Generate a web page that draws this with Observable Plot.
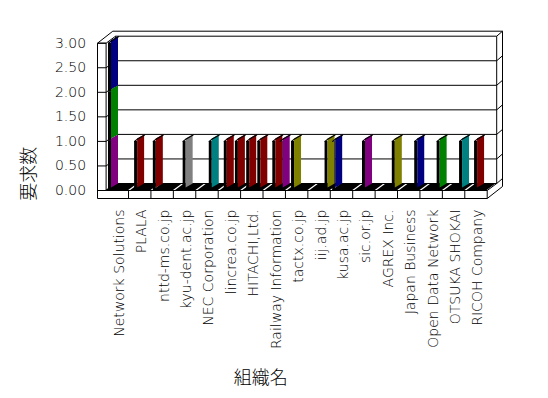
<!DOCTYPE html>
<html><head><meta charset="utf-8">
<script src="https://cdn.jsdelivr.net/npm/d3@7"></script>
<script src="https://cdn.jsdelivr.net/npm/@observablehq/plot@0.6"></script>
<style>html,body{margin:0;padding:0;background:#fff;} svg{display:block}</style>
</head><body><div id="chart"></div>
<script>
// ---- data ----
const categories = ["Network Solutions","PLALA","nttd-ms.co.jp","kyu-dent.ac.jp","NEC Corporation","lincrea.co.jp","HITACHI,Ltd.","Railway Information","tactx.co.jp","iij.ad.jp","kusa.ac.jp","sic.or.jp","AGREX Inc.","Japan Business","Open Data Network","OTSUKA SHOKAI","RICOH Company"];
const yTicks = [0, 0.5, 1, 1.5, 2, 2.5, 3];
const barCategory = [0,0,0,1,2,3,4,5,5,6,6,7,7,8,9,10,11,12,13,14,15,16];
const barSeries   = [0,0,0,1,0,2,3,1,4,1,4,2,4,1,4,0,2,4,4,4,4,2];
const barColor    = ["#800080","#008000","#000080","#800000","#800000","#808080","#008080","#800000","#800000","#800000","#800000","#800000","#800080","#808000","#808000","#000080","#800080","#808000","#000080","#008000","#008080","#800000"];
const barValue    = [1,1,1,1,1,1,1,1,1,1,1,1,1,1,1,1,1,1,1,1,1,1];
const xTitle = "組織名", yTitle = "要求数";

// ---- layout (pixels) ----
const W = 548, H = 398, mL = 105.6, mR = 61.3, mT = 42.7, mB = 208;
const N = categories.length, YMAX = yTicks[yTicks.length - 1];
const kx = (W - mL - mR) / N, ky = (H - mT - mB) / YMAX;
const X = p => p / kx, Y = p => p / ky;       // px -> data units
const DX = 9.5, DY = 7, OX = 15.3, OY = 12, FT = 8, LW = 8.6;
const slot0 = 2.4, slotStep = 3.7, stripW = 3, faceW = 7, lift0 = 2.5, lift1 = 6.5;

// ---- bars (stacked within category+series) ----
const cum = new Map();
const bars = barValue.map((v, j) => {
  const key = barCategory[j] + "-" + barSeries[j];
  const b = cum.get(key) || 0; cum.set(key, b + v);
  const L = barCategory[j] + X(slot0 + slotStep * barSeries[j]);
  return {id: j, L, b, t: b + v, color: barColor[j], key};
});
const topOf = new Map(); bars.forEach(d => topOf.set(d.key, d));
const facePts = bars.flatMap(d => [
  {id: d.id, color: d.color, x: d.L + X(stripW), y1: d.b + Y(lift0), y2: d.t + Y(lift0)},
  {id: d.id, color: d.color, x: d.L + X(stripW + faceW), y1: d.b + Y(lift1), y2: d.t + Y(lift1)}
]);
const topPts = [...topOf.values()].flatMap(d => [
  {id: d.id, x: d.L, y: d.t},
  {id: d.id, x: d.L + X(stripW), y: d.t + Y(lift0)},
  {id: d.id, x: d.L + X(stripW + faceW), y: d.t + Y(lift1)}
]);

// ---- frame pieces ----
const seg = (x1, y1, x2, y2) => ({x1, y1, x2, y2});
const frame = [];
yTicks.forEach(t => {
  frame.push(seg(X(DX), t + Y(DY), N + X(DX), t + Y(DY)));          // back wall grid
  frame.push(seg(0, t, X(DX), t + Y(DY)));                          // left inner wall grid
  frame.push(seg(-X(LW), t, 0, t));                                 // left slab front grid
  frame.push(seg(N + X(DX), t + Y(DY), N + X(OX), t + Y(OY)));      // right slab side
});
frame.push(seg(X(DX), Y(DY), X(DX), YMAX + Y(DY)));
frame.push(seg(N + X(DX), Y(DY), N + X(DX), YMAX + Y(DY)));
frame.push(seg(-X(LW) + X(OX), YMAX + Y(OY), N + X(OX), YMAX + Y(OY)));
frame.push(seg(N + X(OX), YMAX + Y(OY), N + X(OX), -Y(FT) + Y(OY)));
frame.push(seg(-X(LW), YMAX, -X(LW) + X(OX), YMAX + Y(OY)));
frame.push(seg(-X(LW), YMAX, 0, YMAX));
frame.push(seg(-X(LW), YMAX, -X(LW), -Y(FT)));
frame.push(seg(0, YMAX, 0, 0));
frame.push(seg(N, 0, N + X(DX), Y(DY)));
frame.push(seg(N, -Y(FT), N + X(OX), -Y(FT) + Y(OY)));
const floorFront = [seg(-X(LW), -Y(FT), N, -Y(FT)), seg(0, 0, N, 0), seg(N, 0, N, -Y(FT))];
for (let i = 1; i < N; i++) floorFront.push(seg(i, 0, i, -Y(FT)));
const slashes = d3.range(1, N).map(i => seg(i, 0, i + X(DX), Y(DY)));
const floorTop = [{y: 0, x1: 0, x2: N}, {y: Y(DY), x1: X(DX), x2: N + X(DX)}];

const chart = Plot.plot({
  width: W, height: H,
  marginLeft: mL, marginRight: mR, marginTop: mT, marginBottom: mB,
  style: {fontFamily: "DejaVu Sans", fontSize: "14px", fontWeight: "200", background: "white", overflow: "visible"},
  x: {domain: [0, N], axis: null},
  y: {domain: [0, YMAX], ticks: yTicks, tickFormat: d3.format(".2f"), tickSize: 0, tickPadding: 20, label: null},
  color: {type: "identity"},
  marks: [
    Plot.areaX(floorTop, {y: "y", x1: "x1", x2: "x2", fill: "black", curve: "linear"}),
    Plot.link(slashes, {x1: "x1", y1: "y1", x2: "x2", y2: "y2", stroke: "white", strokeWidth: 1.2}),
    Plot.link(frame, {x1: "x1", y1: "y1", x2: "x2", y2: "y2", stroke: "black", strokeWidth: 1}),
    Plot.rect(bars, {x1: "L", x2: d => d.L + X(stripW), y1: "b", y2: "t", fill: "black"}),
    Plot.areaY(facePts, {x: "x", y1: "y1", y2: "y2", z: "id", fill: "color", curve: "linear"}),
    Plot.line(topPts, {x: "x", y: "y", z: "id", stroke: "black", strokeWidth: 1.2, curve: "linear"}),
    Plot.link(floorFront, {x1: "x1", y1: "y1", x2: "x2", y2: "y2", stroke: "black", strokeWidth: 1}),
    Plot.text(categories, {x: (d, i) => i + 0.5, y: () => 0, text: d => d, rotate: -90,
      textAnchor: "end", lineAnchor: "middle", dy: 19, dx: 2, fontSize: 14, fontWeight: 200, fill: "black"}),
    Plot.text([xTitle], {frameAnchor: "bottom", text: d => d, dx: -36, dy: 187.5, lineAnchor: "middle",
      fontSize: 18, fontWeight: 300, fontFamily: "Noto Sans CJK JP", fill: "black"}),
    Plot.text([yTitle], {frameAnchor: "left", text: d => d, dx: -77, dy: 57, rotate: -90,
      textAnchor: "middle", lineAnchor: "middle", fontSize: 18, fontWeight: 300, fontFamily: "Noto Sans CJK JP", fill: "black"})
  ]
});
document.getElementById("chart").appendChild(chart);
</script>
</body></html>
